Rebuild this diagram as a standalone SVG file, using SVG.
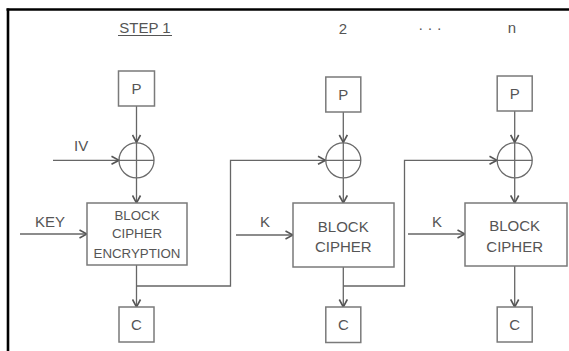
<svg xmlns="http://www.w3.org/2000/svg" width="569" height="351" viewBox="0 0 569 351">
<style>
.box{fill:#fff;stroke:#7a7a7a;stroke-width:1.5}
.xor{fill:none;stroke:#6a6a6a;stroke-width:1.3}
.ln{fill:none;stroke:#666;stroke-width:1.3}
.t{font-family:"Liberation Sans",Arial,sans-serif;fill:#555;text-anchor:middle}
.s15{font-size:15px}
.s13{font-size:13.3px}
.lab{font-family:"Liberation Sans",Arial,sans-serif;fill:#555;font-size:15px}
</style>
<defs>
<marker id="ah" viewBox="0 0 10 10" refX="9.5" refY="5" markerWidth="10" markerHeight="10" markerUnits="userSpaceOnUse" orient="auto">
<path d="M2,1 L9.5,5 L2,9" fill="none" stroke="#555" stroke-width="1.6"/>
</marker>
</defs>
<rect width="569" height="351" fill="#fff"/>
<g id="frame">
<line x1="6.5" y1="9.5" x2="569" y2="9.5" stroke="#000" stroke-width="2.6"/>
<line x1="8" y1="8.5" x2="8" y2="351" stroke="#000" stroke-width="2.6"/>
</g>
<g id="headers">
<text class="t s15" x="145" y="33">STEP 1</text>
<line x1="118" y1="35.5" x2="172" y2="35.5" stroke="#555" stroke-width="1"/>
<text class="t s15" x="343" y="34">2</text>
<text class="t s15" x="430" y="33">· · ·</text>
<text class="t s15" x="512" y="33">n</text>
</g>
<g id="connectors">
<line class="ln" x1="136.5" y1="106" x2="136.5" y2="142.5" marker-end="url(#ah)"/>
<line class="ln" x1="53" y1="160.3" x2="119" y2="160.3" marker-end="url(#ah)"/>
<line class="ln" x1="136.5" y1="178" x2="136.5" y2="203" marker-end="url(#ah)"/>
<line class="ln" x1="20" y1="234" x2="87" y2="234" marker-end="url(#ah)"/>
<line class="ln" x1="136.5" y1="265" x2="136.5" y2="307" marker-end="url(#ah)"/>
<polyline class="ln" points="136.5,286 230.5,286 230.5,160.3 325.5,160.3" marker-end="url(#ah)"/>
<line class="ln" x1="343.3" y1="112" x2="343.3" y2="142.5" marker-end="url(#ah)"/>
<line class="ln" x1="343.3" y1="178" x2="343.3" y2="203" marker-end="url(#ah)"/>
<line class="ln" x1="236" y1="235" x2="293" y2="235" marker-end="url(#ah)"/>
<line class="ln" x1="343.3" y1="267" x2="343.3" y2="307" marker-end="url(#ah)"/>
<polyline class="ln" points="343.3,286 404.5,286 404.5,160.3 497,160.3" marker-end="url(#ah)"/>
<line class="ln" x1="514.7" y1="111" x2="514.7" y2="142.5" marker-end="url(#ah)"/>
<line class="ln" x1="514.7" y1="178" x2="514.7" y2="203" marker-end="url(#ah)"/>
<line class="ln" x1="408" y1="234" x2="465" y2="234" marker-end="url(#ah)"/>
<line class="ln" x1="514.7" y1="266" x2="514.7" y2="307" marker-end="url(#ah)"/>
</g>
<g id="labels">
<text class="lab" x="74" y="151">IV</text>
<text class="lab" x="35" y="227">KEY</text>
<text class="t s15" x="265" y="227">K</text>
<text class="t s15" x="437" y="227">K</text>
</g>
<g id="p1"><rect class="box" x="118.5" y="71" width="36" height="35"/><text class="t s15" x="136.5" y="94">P</text></g>
<g id="xor1"><circle class="xor" cx="136.5" cy="160.3" r="17.5"/><path class="xor" d="M119,160.3 H154 M136.5,142.8 V177.8"/></g>
<g id="block1"><rect class="box" x="87" y="203" width="100" height="62"/>
<text class="t s13" x="137" y="220">BLOCK</text>
<text class="t s13" x="137" y="238">CIPHER</text>
<text class="t s13" x="137" y="257.5">ENCRYPTION</text></g>
<g id="c1"><rect class="box" x="119" y="307" width="35" height="35"/><text class="t s15" x="136.5" y="330">C</text></g>
<g id="p2"><rect class="box" x="325.8" y="77" width="35" height="35"/><text class="t s15" x="343.3" y="100">P</text></g>
<g id="xor2"><circle class="xor" cx="343.3" cy="160.3" r="17.5"/><path class="xor" d="M325.8,160.3 H360.8 M343.3,142.8 V177.8"/></g>
<g id="block2"><rect class="box" x="293" y="203" width="101" height="64"/>
<text class="t s15" x="343.3" y="232">BLOCK</text>
<text class="t s15" x="343.3" y="252">CIPHER</text></g>
<g id="c2"><rect class="box" x="325.8" y="307" width="35" height="35.5"/><text class="t s15" x="343.3" y="330">C</text></g>
<g id="pn"><rect class="box" x="497.2" y="76" width="35" height="35"/><text class="t s15" x="514.7" y="99">P</text></g>
<g id="xorn"><circle class="xor" cx="514.7" cy="160.3" r="17.5"/><path class="xor" d="M497.2,160.3 H532.2 M514.7,142.8 V177.8"/></g>
<g id="blockn"><rect class="box" x="465" y="203" width="102" height="63"/>
<text class="t s15" x="514.7" y="231">BLOCK</text>
<text class="t s15" x="514.7" y="252">CIPHER</text></g>
<g id="cn"><rect class="box" x="497.2" y="307" width="35" height="35"/><text class="t s15" x="514.7" y="330">C</text></g>
</svg>
